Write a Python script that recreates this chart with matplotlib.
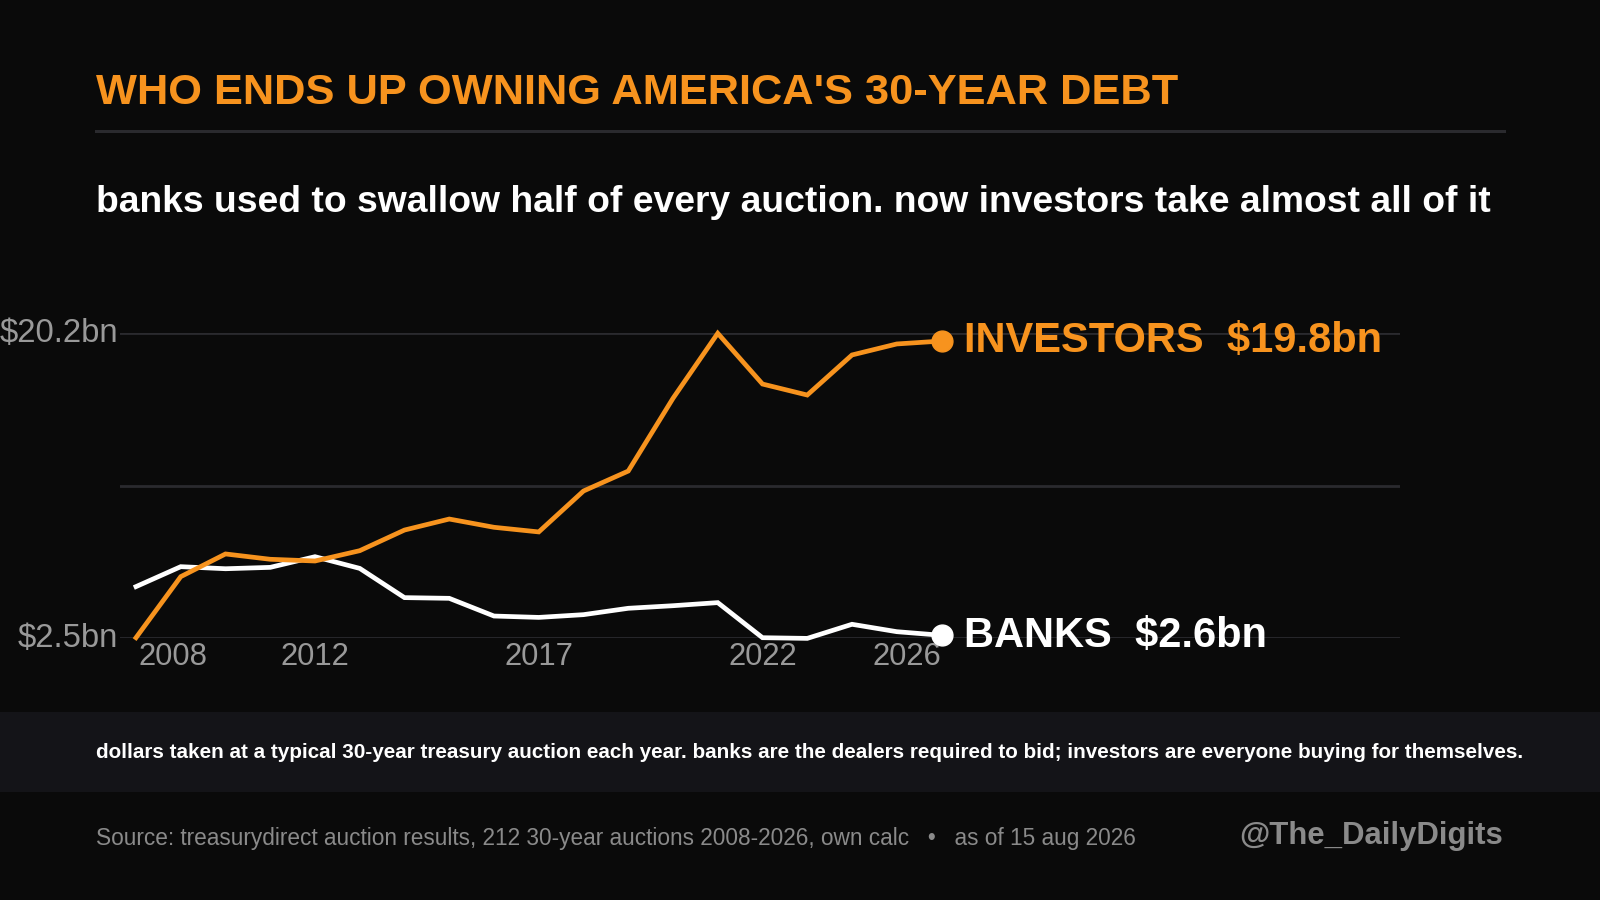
import matplotlib.pyplot as plt
import matplotlib.transforms as mtransforms
from matplotlib.patches import Rectangle

years = list(range(2008, 2027))
investors = [2.5, 6.05, 7.37, 7.06, 6.96, 7.56, 8.76, 9.4, 8.92, 8.65,
             11.03, 12.19, 16.42, 20.2, 17.25, 16.61, 18.94, 19.58, 19.75]
banks = [5.47, 6.63, 6.51, 6.59, 7.21, 6.53, 4.83, 4.79, 3.76, 3.68,
         3.84, 4.21, 4.36, 4.54, 2.5, 2.46, 3.28, 2.85, 2.64]
tick_years = [2008, 2012, 2017, 2022, 2026]
y_ticks = [2.5, 11.35, 20.2]
y_labels = ["$2.5bn", "", "$20.2bn"]

BG = "#0a0a0a"
ORANGE = "#f7931e"
GRID = "#2a2a2e"
GREY = "#999999"

plt.rcParams["font.family"] = ["Liberation Sans", "DejaVu Sans"]

W, H = 1600, 900
fig = plt.figure(figsize=(16, 9), dpi=100, facecolor=BG)

def fx(px):
    return px / W

def fy(py):
    return 1 - py / H

# plot area in pixels: left 120, right 1400, top 333, bottom 638
left, right, top, bottom = 120, 1400, 333.3, 637.7
ax = fig.add_axes([fx(left), fy(bottom), fx(right - left), (bottom - top) / H])
ax.set_facecolor(BG)

ppy = (941.5 - 136) / 18
ax.set_xlim(2008 - (136 - left) / ppy, 2026 + (right - 941.5) / ppy)
ax.set_ylim(2.5, 20.2)

for s in ax.spines.values():
    s.set_visible(False)
ax.set_yticks(y_ticks)
ax.set_yticklabels(y_labels)
ax.grid(axis="y", color=GRID, linewidth=2)
ax.set_axisbelow(True)
ax.tick_params(axis="y", length=0, pad=1.5, labelsize=23.7, labelcolor=GREY)
ax.set_xticks(tick_years)
ax.set_xticklabels([str(y) for y in tick_years])
ax.tick_params(axis="x", length=0, pad=3, labelsize=22.3, labelcolor=GREY)
xl = ax.get_xticklabels()
xl[0].set_ha("left")
xl[-1].set_ha("right")
nudge = mtransforms.ScaledTranslation(3 / 100, 0, fig.dpi_scale_trans)
xl[0].set_transform(xl[0].get_transform() + nudge)
lift = mtransforms.ScaledTranslation(0, 3 / 100, fig.dpi_scale_trans)
for t in ax.get_yticklabels():
    t.set_transform(t.get_transform() + lift)

ax.plot(years, banks, color="white", linewidth=3.4, clip_on=False, solid_joinstyle="miter")
ax.plot(years, investors, color=ORANGE, linewidth=3.4, clip_on=False, solid_joinstyle="miter")
ax.plot(years[-1], banks[-1], "o", color="white", markersize=15, clip_on=False)
ax.plot(years[-1], investors[-1], "o", color=ORANGE, markersize=15, clip_on=False)

ax.annotate("INVESTORS  $19.8bn", (years[-1], investors[-1]), xytext=(22, -11),
            textcoords="offset pixels", color=ORANGE, fontsize=30,
            fontweight="bold", va="baseline", ha="left", annotation_clip=False)
ax.annotate("BANKS  $2.6bn", (years[-1], banks[-1]), xytext=(22, -12),
            textcoords="offset pixels", color="white", fontsize=30,
            fontweight="bold", va="baseline", ha="left", annotation_clip=False)

# header
fig.text(fx(96), fy(103.5), "WHO ENDS UP OWNING AMERICA'S 30-YEAR DEBT",
         color=ORANGE, fontsize=31.2, fontweight="bold", va="baseline")
fig.add_artist(Rectangle((fx(95), fy(132.5)), fx(1506 - 95), 2.7 / H,
                         transform=fig.transFigure, color=GRID, lw=0))
fig.text(fx(96), fy(211.5),
         "banks used to swallow half of every auction. now investors take almost all of it",
         color="white", fontsize=26.8, fontweight="bold", va="baseline")

# footer band
fig.add_artist(Rectangle((0, fy(792)), 1, 80 / H, transform=fig.transFigure,
                         color="#141418", lw=0))
fig.text(fx(96), fy(753), "dollars taken at a typical 30-year treasury auction each year. "
         "banks are the dealers required to bid; investors are everyone buying for themselves.",
         color="white", fontsize=14.85, fontweight="bold", va="center")
fig.text(fx(96), fy(838), "Source: treasurydirect auction results, 212 30-year auctions "
         "2008-2026, own calc   \u2022   as of 15 aug 2026",
         color="#8a8a8a", fontsize=16.25, va="center")
fig.text(fx(1503), fy(836), "@The_DailyDigits", color="#8a8a8a", fontsize=22.4,
         fontweight="bold", va="center", ha="right")

fig.savefig("out.png", dpi=100, facecolor=BG)
